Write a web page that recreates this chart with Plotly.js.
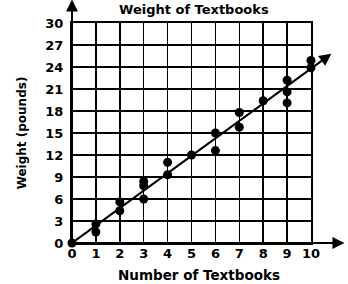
<!DOCTYPE html>
<html><head><meta charset="utf-8">
<script src="https://cdn.plot.ly/plotly-3.0.1.min.js"></script>
<style>html,body{margin:0;padding:0;background:#fff}#c{width:348px;height:284px}</style>
</head><body><div id="c"></div>
<script>
var books   = [0, 1, 1, 2, 2, 3, 3, 3, 4, 4, 5, 6, 6, 7, 7, 8, 9, 9, 9, 10, 10];
var weights = [0, 2.6, 1.5, 5.6, 4.4, 8.4, 7.8, 6.0, 11.0, 9.3, 12.0, 15.0, 12.6, 17.8, 15.8, 19.4, 22.2, 20.6, 19.1, 24.9, 23.9];
var fitX = [0, 10.85];
var fitY = [0, 25.8];
var axisEnd = [11.4, 33.2];
var xTicks = [0,1,2,3,4,5,6,7,8,9,10];
var yTicks = [0,3,6,9,12,15,18,21,24,27,30];

var F = 'DejaVu Sans, Verdana, sans-serif';
var trace = {x: books, y: weights, mode: 'markers', type: 'scatter', cliponaxis: false,
  marker: {color: '#000', size: 9}, hoverinfo: 'none'};

var ann = [
  {x: fitX[1], y: fitY[1], ax: fitX[0], ay: fitY[0], xref: 'x', yref: 'y', axref: 'x', ayref: 'y',
   showarrow: true, arrowhead: 2, arrowsize: 1.2, arrowwidth: 2, arrowcolor: '#000', text: ''},
  {x: axisEnd[0], y: 0, ax: 0, ay: 0, xref: 'x', yref: 'y', axref: 'x', ayref: 'y',
   showarrow: true, arrowhead: 2, arrowsize: 1.2, arrowwidth: 2, arrowcolor: '#000', text: ''},
  {x: 0, y: axisEnd[1], ax: 0, ay: 0, xref: 'x', yref: 'y', axref: 'x', ayref: 'y',
   showarrow: true, arrowhead: 2, arrowsize: 1.2, arrowwidth: 2, arrowcolor: '#000', text: ''},
  {text: 'Number of Textbooks', xref: 'paper', yref: 'paper', x: 0.532, y: -0.145,
   xanchor: 'center', yanchor: 'middle', showarrow: false,
   font: {family: F, size: 13.5, weight: 'bold', color: '#000'}}
];

var layout = {
  width: 348, height: 284,
  margin: {l: 72, r: 37, t: 23, b: 41},
  paper_bgcolor: '#fff', plot_bgcolor: '#fff',
  showlegend: false,
  font: {family: F, color: '#000', size: 12, weight: 'bold'},
  title: {text: 'Weight of Textbooks', font: {family: F, size: 13, weight: 'bold', color: '#000'},
          x: 0.557, xanchor: 'center', y: 0.965, yanchor: 'middle'},
  xaxis: {range: [0, 10], tickvals: xTicks, ticktext: xTicks.map(String),
    showgrid: true, gridcolor: '#000', gridwidth: 1.5, zeroline: false,
    showline: true, linecolor: '#000', linewidth: 2, mirror: true, ticks: '',
    ticklabelstandoff: -3,
    tickfont: {family: F, size: 13, weight: 'bold'}},
  yaxis: {range: [0, 30], tickvals: yTicks, ticktext: yTicks.map(String),
    showgrid: true, gridcolor: '#000', gridwidth: 1.5, zeroline: false,
    showline: true, linecolor: '#000', linewidth: 2, mirror: true, ticks: '',
    ticklabelstandoff: 4,
    tickfont: {family: F, size: 13, weight: 'bold'},
    title: {text: 'Weight (pounds)', font: {family: F, size: 12, weight: 'bold'}, standoff: 16}},
  annotations: ann
};
Plotly.newPlot('c', [trace], layout, {staticPlot: true, displayModeBar: false});
</script></body></html>
